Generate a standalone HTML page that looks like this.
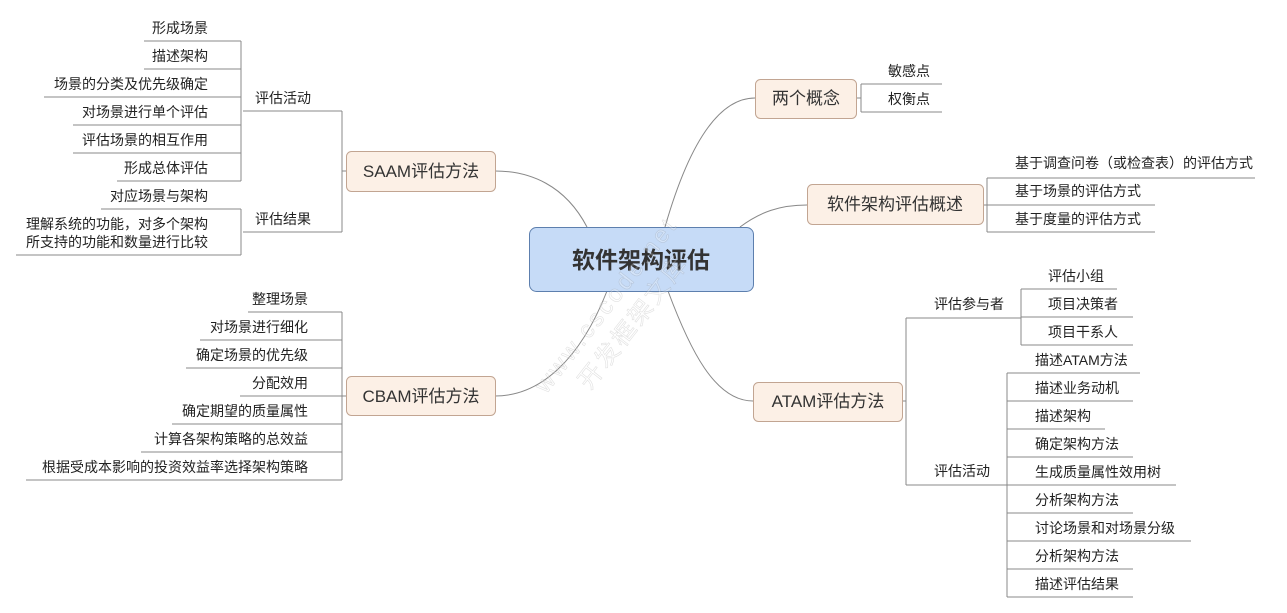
<!DOCTYPE html>
<html><head><meta charset="utf-8"><style>
html,body{margin:0;padding:0;background:#fff;}
svg{display:block;}
text{font-family:"Liberation Sans","Noto Sans CJK SC",sans-serif;fill:#222;}
.l{font-size:14px;}
.n{font-size:17px;fill:#333;}
</style></head><body>
<svg width="1287" height="613" viewBox="0 0 1287 613" xmlns="http://www.w3.org/2000/svg">
<g fill="none" stroke="#888" stroke-width="1">
<path d="M587,227 C565,185 530,171 495,171"/>
<path d="M607,291 C580,360 540,396 495,396"/>
<path d="M665,227 C690,140 720,98 755,98"/>
<path d="M740,227 C760,212 780,205 807,205"/>
<path d="M668,291 C690,350 715,401 753,401"/>
<path d="M346,171 H342 M342,111 V232 M243,111 H342 M243,232 H342"/>
<path d="M241,41 V181 M144,41 H241 M144,69 H241 M44,97 H241 M73,125 H241 M73,153 H241 M117,181 H241"/>
<path d="M241,209 V255 M101,209 H241 M16,255 H241"/>
<path d="M342,312 V480 M342,396 H346 M248,312 H342 M200,340 H342 M186,368 H342 M240,396 H342 M172,424 H342 M141,452 H342 M26,480 H342"/>
<path d="M857,98 H861 M861,84 V112 M861,84 H942 M861,112 H942"/>
<path d="M983,205 H987 M987,178 V232 M987,178 H1255 M987,205 H1155 M987,232 H1155"/>
<path d="M902,401 H906 M906,318 V485 M906,318 H1021 M906,485 H1007"/>
<path d="M1021,289 V345 M1021,289 H1117 M1021,317 H1133 M1021,345 H1133"/>
<path d="M1007,373 V597 M1007,373 H1140 M1007,401 H1133 M1007,429 H1105 M1007,457 H1133 M1007,485 H1176 M1007,513 H1133 M1007,541 H1191 M1007,569 H1133 M1007,597 H1133"/>
</g>
<rect x="529.5" y="227.5" width="224" height="64" rx="7" fill="#c6dbf7" stroke="#5d7fae"/>
<text x="641" y="268" text-anchor="middle" style="font-size:23px;font-weight:bold;fill:#333">软件架构评估</text>
<g fill="#fcf0e6" stroke="#c2a592">
<rect x="346.5" y="151.5" width="149" height="40" rx="5"/>
<rect x="346.5" y="376.5" width="149" height="39" rx="5"/>
<rect x="753.5" y="382.5" width="149" height="39" rx="5"/>
<rect x="755.5" y="79.5" width="101" height="39" rx="5"/>
<rect x="807.5" y="184.5" width="176" height="40" rx="5"/>
</g>
<text class="n" x="421" y="177" text-anchor="middle">SAAM评估方法</text>
<text class="n" x="421" y="402" text-anchor="middle">CBAM评估方法</text>
<text class="n" x="828" y="407" text-anchor="middle">ATAM评估方法</text>
<text class="n" x="806" y="104" text-anchor="middle">两个概念</text>
<text class="n" x="895" y="210" text-anchor="middle">软件架构评估概述</text>
<g class="l">
<text x="255" y="103">评估活动</text>
<text x="255" y="224">评估结果</text>
<g text-anchor="end">
<text x="208" y="33">形成场景</text>
<text x="208" y="61">描述架构</text>
<text x="208" y="89">场景的分类及优先级确定</text>
<text x="208" y="117">对场景进行单个评估</text>
<text x="208" y="145">评估场景的相互作用</text>
<text x="208" y="173">形成总体评估</text>
<text x="208" y="201">对应场景与架构</text>
<text x="208" y="229">理解系统的功能，对多个架构</text>
<text x="208" y="247">所支持的功能和数量进行比较</text>
<text x="308" y="304">整理场景</text>
<text x="308" y="332">对场景进行细化</text>
<text x="308" y="360">确定场景的优先级</text>
<text x="308" y="388">分配效用</text>
<text x="308" y="416">确定期望的质量属性</text>
<text x="308" y="444">计算各架构策略的总效益</text>
<text x="308" y="472">根据受成本影响的投资效益率选择架构策略</text>
</g>
<text x="888" y="76">敏感点</text>
<text x="888" y="104">权衡点</text>
<text x="1015" y="168">基于调查问卷（或检查表）的评估方式</text>
<text x="1015" y="196">基于场景的评估方式</text>
<text x="1015" y="224">基于度量的评估方式</text>
<text x="934" y="309">评估参与者</text>
<text x="934" y="476">评估活动</text>
<text x="1048" y="281">评估小组</text>
<text x="1048" y="309">项目决策者</text>
<text x="1048" y="337">项目干系人</text>
<text x="1035" y="365">描述ATAM方法</text>
<text x="1035" y="393">描述业务动机</text>
<text x="1035" y="421">描述架构</text>
<text x="1035" y="449">确定架构方法</text>
<text x="1035" y="477">生成质量属性效用树</text>
<text x="1035" y="505">分析架构方法</text>
<text x="1035" y="533">讨论场景和对场景分级</text>
<text x="1035" y="561">分析架构方法</text>
<text x="1035" y="589">描述评估结果</text>
</g>
<g transform="rotate(-52 620 300)" opacity="0.25">
<text x="500" y="300" style="font-size:24px;letter-spacing:3px;fill:#fff;stroke:#888;stroke-width:0.6">www.cscode.net</text>
<text x="530" y="332" style="font-size:24px;letter-spacing:3px;fill:#fff;stroke:#888;stroke-width:0.6">开发框架文库</text>
</g>
</svg>
</body></html>
